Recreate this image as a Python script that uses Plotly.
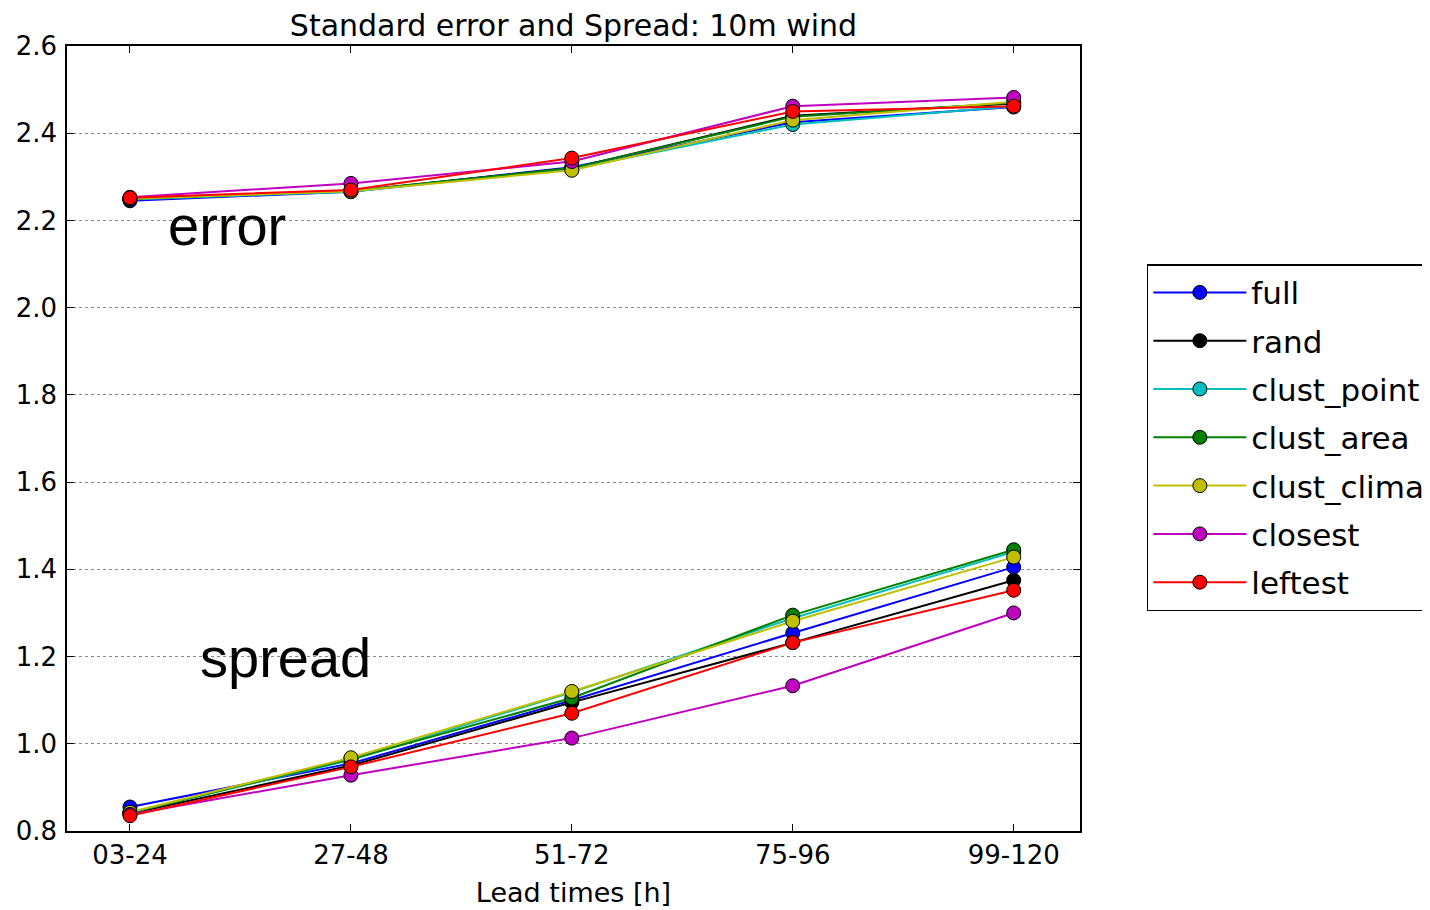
import plotly.graph_objects as go

lead_times = ["03-24", "27-48", "51-72", "75-96", "99-120"]
series_names = ["full", "rand", "clust_point", "clust_area", "clust_clima", "closest", "leftest"]
colors = ["#0000ff", "#000000", "#00bfbf", "#008000", "#bfbf00", "#bf00bf", "#ff0000"]

error_full = [2.245, 2.266, 2.322, 2.425, 2.460]
error_rand = [2.250, 2.267, 2.320, 2.440, 2.468]
error_clust_point = [2.248, 2.266, 2.318, 2.420, 2.462]
error_clust_area = [2.250, 2.268, 2.320, 2.438, 2.470]
error_clust_clima = [2.250, 2.267, 2.315, 2.430, 2.472]
error_closest = [2.253, 2.285, 2.335, 2.462, 2.482]
error_leftest = [2.252, 2.270, 2.343, 2.450, 2.462]

spread_full = [0.855, 0.955, 1.100, 1.254, 1.405]
spread_rand = [0.840, 0.950, 1.095, 1.232, 1.375]
spread_clust_point = [0.842, 0.963, 1.118, 1.288, 1.440]
spread_clust_area = [0.842, 0.965, 1.105, 1.295, 1.445]
spread_clust_clima = [0.843, 0.968, 1.120, 1.281, 1.428]
spread_closest = [0.838, 0.928, 1.013, 1.133, 1.300]
spread_leftest = [0.835, 0.947, 1.070, 1.232, 1.352]

errors = [error_full, error_rand, error_clust_point, error_clust_area,
          error_clust_clima, error_closest, error_leftest]
spreads = [spread_full, spread_rand, spread_clust_point, spread_clust_area,
           spread_clust_clima, spread_closest, spread_leftest]

fig = go.Figure()
xi = list(range(len(lead_times)))
for name, col, err, spr in zip(series_names, colors, errors, spreads):
    for k, vals in enumerate([err, spr]):
        fig.add_trace(go.Scatter(
            x=xi, y=vals, mode="lines+markers", name=name,
            legendgroup=name, showlegend=(k == 0),
            line=dict(color=col, width=2),
            marker=dict(color=col, size=14, line=dict(color="#000000", width=1)),
        ))

fig.add_annotation(x=0.163, y=2.188, xref="x", yref="y", text="error", showarrow=False,
                   font=dict(family="Liberation Sans, Arial", size=56, color="#000000"),
                   xanchor="left", yanchor="middle")
fig.add_annotation(x=0.306, y=1.198, xref="x", yref="y", text="spread", showarrow=False,
                   font=dict(family="Liberation Sans, Arial", size=56, color="#000000"),
                   xanchor="left", yanchor="middle")

fig.update_layout(
    width=1430, height=910,
    margin=dict(l=59, r=358, t=38, b=87, autoexpand=False),
    paper_bgcolor="#ffffff", plot_bgcolor="#ffffff",
    font=dict(family="DejaVu Sans", size=26, color="#000000"),
    title=dict(text="Standard error and Spread: 10m wind", x=0.5, xanchor="center",
               xref="paper", y=0.9805, yanchor="middle", font=dict(size=30)),
    showlegend=True,
    legend=dict(x=1.066, y=0.722, xanchor="left", yanchor="top",
                bordercolor="#000000", borderwidth=1.5, bgcolor="#ffffff",
                font=dict(size=31), tracegroupgap=5, itemwidth=93),
)
fig.update_xaxes(range=[-0.285, 4.3], tickvals=xi, ticktext=lead_times,
                 showline=True, linecolor="#000000", linewidth=1.5, mirror="ticks",
                 ticks="inside", ticklen=7, tickcolor="#000000",
                 showgrid=False, zeroline=False,
                 title=dict(text="Lead times [h]", font=dict(size=27), standoff=14))
fig.update_yaxes(range=[0.8, 2.6], dtick=0.2, tickformat=".1f",
                 showline=True, linecolor="#000000", linewidth=1.5, mirror="ticks",
                 ticks="inside", ticklen=7, tickcolor="#000000",
                 showgrid=True, gridcolor="#888888", griddash="dot", gridwidth=1,
                 zeroline=False, ticklabelstandoff=3)

fig.write_html("out.html")
